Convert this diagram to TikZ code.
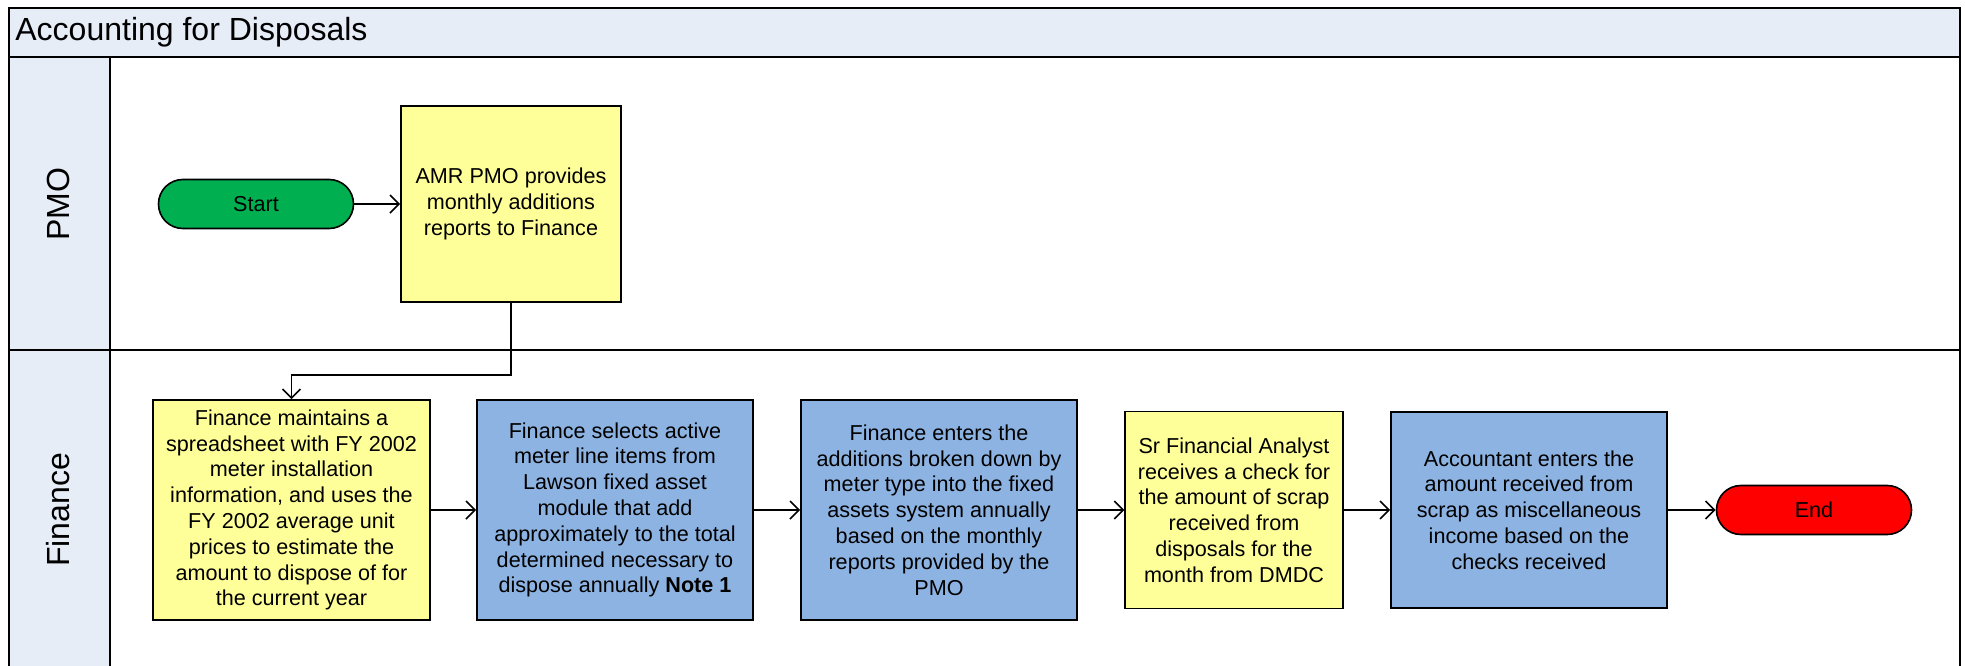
\documentclass[tikz,border=0pt]{standalone}
\usepackage{fontspec}
\setmainfont{Liberation Sans}
\usetikzlibrary{arrows.meta}
\definecolor{laneblue}{RGB}{230,237,247}
\definecolor{procyellow}{RGB}{255,255,153}
\definecolor{procblue}{RGB}{141,179,226}
\definecolor{startgreen}{RGB}{0,176,80}
\definecolor{endred}{RGB}{255,0,0}
\begin{document}
\begin{tikzpicture}[x=0.5pt,y=-0.5pt,
  lane/.style={draw=black,line width=1.1pt},
  lanetext/.style={font=\fontsize{16}{19}\selectfont,inner sep=0pt},
  box/.style={draw=black,line width=0.8pt,align=center,inner sep=2pt,
    font=\fontsize{10.8}{12.9}\selectfont},
  yellowbox/.style={box,fill=procyellow},
  bluebox/.style={box,fill=procblue},
  terminal/.style={box,rounded corners=12.2pt,minimum width=97.5pt,minimum height=24.5pt},
  arr/.style={-{Straight Barb[length=4.5pt,width=9pt]},line width=0.85pt}]
\useasboundingbox (0,0) rectangle (1965,665);

% swimlane frame
\fill[white] (9,8) rectangle (1960,700);
\filldraw[lane,fill=laneblue] (9,8) rectangle (1960,57);
\filldraw[lane,fill=laneblue] (9,57) rectangle (110,700);
\draw[lane] (9,8) rectangle (1960,700);
\draw[lane] (9,350) -- (1960,350);
\node[lanetext,anchor=west] (title) at (15,32.5) {Accounting for Disposals};
\node[lanetext,rotate=90] (pmolane) at (58,204) {PMO};
\node[lanetext,rotate=90] (finlane) at (58,510) {Finance};

% PMO lane
\node[terminal,fill=startgreen] (start) at (256,204) {Start};
\node[yellowbox,minimum width=110pt,minimum height=98pt] (amr) at (511,204)
  {AMR PMO provides\\monthly additions\\reports to Finance};

% Finance lane
\node[yellowbox,minimum width=138.5pt,minimum height=110pt] (f1) at (291.5,510)
  {Finance maintains a\\spreadsheet with FY 2002\\meter installation\\information, and uses the\\FY 2002 average unit\\prices to estimate the\\amount to dispose of for\\the current year};
\node[bluebox,minimum width=138pt,minimum height=110pt] (f2) at (615,510)
  {Finance selects active\\meter line items from\\Lawson fixed asset\\module that add\\approximately to the total\\determined necessary to\\dispose annually \textbf{Note 1}};
\node[bluebox,minimum width=138pt,minimum height=110pt] (f3) at (939,510)
  {Finance enters the\\additions broken down by\\meter type into the fixed\\assets system annually\\based on the monthly\\reports provided by the\\PMO};
\node[yellowbox,minimum width=108.75pt,minimum height=98.5pt] (f4) at (1234,510)
  {Sr Financial Analyst\\receives a check for\\the amount of scrap\\received from\\disposals for the\\month from DMDC};
\node[bluebox,minimum width=138pt,minimum height=98pt] (f5) at (1529,510)
  {Accountant enters the\\amount received from\\scrap as miscellaneous\\income based on the\\checks received};
\node[terminal,fill=endred] (end) at (1814,510) {End};

% connectors
\coordinate (elbow) at (0,375);
\draw[arr] (start) -- (amr);
\draw[arr] (amr.south) -- (amr.south |- elbow) -| (f1.north);
\draw[arr] (f1) -- (f2);
\draw[arr] (f2) -- (f3);
\draw[arr] (f3) -- (f4);
\draw[arr] (f4) -- (f5);
\draw[arr] (f5) -- (end);
\end{tikzpicture}
\end{document}
